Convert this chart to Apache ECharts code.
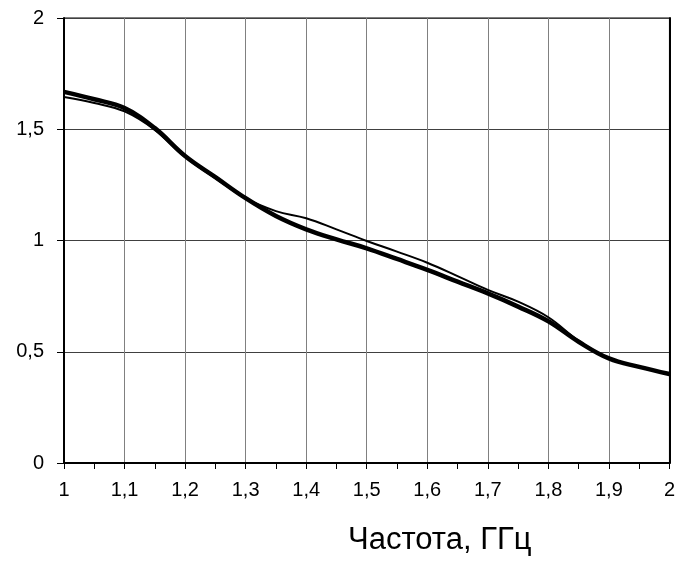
<!DOCTYPE html>
<html>
<head>
<meta charset="utf-8">
<script src="https://cdn.jsdelivr.net/npm/echarts@6/dist/echarts.min.js"></script>
<style>html,body{margin:0;padding:0;background:#fff}#c{width:678px;height:563px}</style>
</head>
<body>
<div id="c"></div>
<script>
var xValues = [1, 1.05, 1.1, 1.15, 1.2, 1.25, 1.3, 1.35, 1.4, 1.45, 1.5, 1.55, 1.6, 1.65, 1.7, 1.75, 1.8, 1.85, 1.9, 1.95, 2];
var thickValues = [1.668, 1.635, 1.595, 1.505, 1.38, 1.285, 1.19, 1.11, 1.05, 1.005, 0.965, 0.917, 0.868, 0.815, 0.762, 0.703, 0.637, 0.545, 0.47, 0.432, 0.40];
var thinValues = [1.645, 1.618, 1.58, 1.497, 1.375, 1.28, 1.19, 1.132, 1.10, 1.05, 0.998, 0.95, 0.90, 0.84, 0.778, 0.725, 0.655, 0.55, 0.47, 0.432, 0.40];
var xTitle = 'Частота, ГГц';

function pairs(xs, ys) { return xs.map(function (x, i) { return [x, ys[i]]; }); }
function fmt(v) { return String(Math.round(v * 100) / 100).replace('.', ','); }

var chart = echarts.init(document.getElementById('c'), null, { renderer: 'canvas' });
var font = 'Liberation Sans, Arial, sans-serif';
chart.setOption({
  animation: false,
  backgroundColor: '#fff',
  grid: { left: 64, right: 7, top: 18, bottom: 100, show: true, borderColor: '#000', borderWidth: 1 },
  xAxis: {
    type: 'value', min: 1, max: 2, interval: 0.1,
    axisLine: { onZero: false, lineStyle: { color: '#000', width: 2 } },
    axisTick: { show: true, length: 6, lineStyle: { color: '#000' } },
    minorTick: { show: true, splitNumber: 2, length: 6, lineStyle: { color: '#000' } },
    axisLabel: { margin: 17, color: '#000', fontSize: 20, fontFamily: font, formatter: fmt },
    splitLine: { show: true, lineStyle: { color: '#808080', width: 1 } }
  },
  yAxis: [{
    type: 'value', min: 0, max: 2, interval: 0.5,
    axisLine: { show: true, onZero: false, lineStyle: { color: '#000', width: 2 } },
    axisTick: { show: true, length: 7, lineStyle: { color: '#000' } },
    axisLabel: { margin: 20, color: '#000', fontSize: 20, fontFamily: font, formatter: fmt },
    splitLine: { show: true, lineStyle: { color: '#404040', width: 1 } }
  }, {
    type: 'value', min: 0, max: 2, interval: 0.5, position: 'right',
    axisLine: { show: true, lineStyle: { color: '#000', width: 2 } },
    axisTick: { show: false }, axisLabel: { show: false }, splitLine: { show: false }
  }],
  graphic: [{
    type: 'text', left: 348, top: 525,
    style: { text: xTitle, fill: '#000', font: '31px ' + font }
  }],
  series: [{
    type: 'line', data: pairs(xValues, thinValues), smooth: 0.4, symbol: 'none',
    lineStyle: { color: '#000', width: 2 }
  }, {
    type: 'line', data: pairs(xValues, thickValues), smooth: 0.4, symbol: 'none',
    lineStyle: { color: '#000', width: 4.5 }
  }]
});
</script>
</body>
</html>
